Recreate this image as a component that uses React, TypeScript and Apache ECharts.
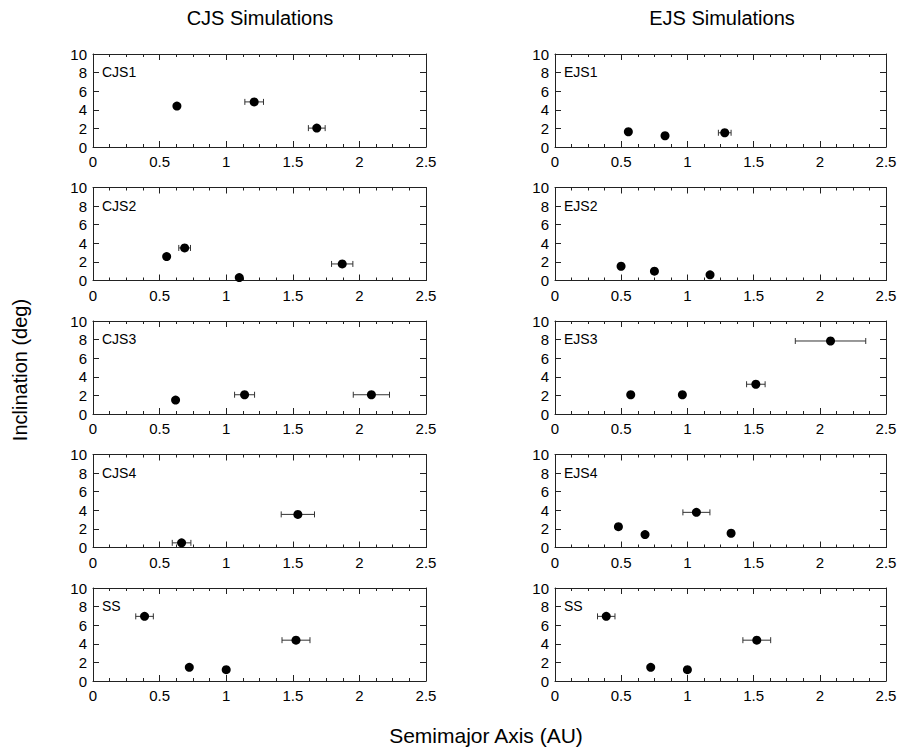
import React, { useEffect, useRef } from "react";
import * as echarts from "echarts";

// ---- Data (semimajor axis a [AU], inclination [deg], a error half-width [AU]) ----
const panelNames = ["CJS1", "CJS2", "CJS3", "CJS4", "SS", "EJS1", "EJS2", "EJS3", "EJS4", "SS"];

const cjs1A = [0.63, 1.21, 1.68];
const cjs1I = [4.4, 4.85, 2.03];
const cjs1E = [0.02, 0.07, 0.063];

const cjs2A = [0.553, 0.688, 1.098, 1.871];
const cjs2I = [2.57, 3.5, 0.32, 1.78];
const cjs2E = [0.02, 0.044, 0.015, 0.08];

const cjs3A = [0.62, 1.138, 2.09];
const cjs3I = [1.5, 2.07, 2.07];
const cjs3E = [0.02, 0.075, 0.136];

const cjs4A = [0.665, 1.538];
const cjs4I = [0.5, 3.56];
const cjs4E = [0.07, 0.125];

const ssA = [0.387, 0.723, 1.0, 1.524];
const ssI = [6.95, 1.47, 1.22, 4.39];
const ssE = [0.066, 0.005, 0.017, 0.105];

const ejs1A = [0.554, 0.831, 1.282];
const ejs1I = [1.64, 1.21, 1.53];
const ejs1E = [0.01, 0.01, 0.048];

const ejs2A = [0.499, 0.751, 1.171];
const ejs2I = [1.53, 1.0, 0.61];
const ejs2E = [0.01, 0.01, 0.01];

const ejs3A = [0.572, 0.962, 1.517, 2.081];
const ejs3I = [2.07, 2.07, 3.2, 7.85];
const ejs3E = [0.01, 0.01, 0.07, 0.266];

const ejs4A = [0.479, 0.68, 1.068, 1.33];
const ejs4I = [2.24, 1.39, 3.78, 1.53];
const ejs4E = [0.02, 0.01, 0.102, 0.02];

const xTickMin = 0;
const xTickMax = 2.5;
const xTickStep = 0.5;
const yTickMin = 0;
const yTickMax = 10;
const yTickStep = 2;

const panels = [
  [cjs1A, cjs1I, cjs1E],
  [cjs2A, cjs2I, cjs2E],
  [cjs3A, cjs3I, cjs3E],
  [cjs4A, cjs4I, cjs4E],
  [ssA, ssI, ssE],
  [ejs1A, ejs1I, ejs1E],
  [ejs2A, ejs2I, ejs2E],
  [ejs3A, ejs3I, ejs3E],
  [ejs4A, ejs4I, ejs4E],
  [ssA, ssI, ssE],
];

const FONT = "'Liberation Sans', Arial, Helvetica, sans-serif";
const colLeft = [93, 555];
const colWidth = [333, 331];
const rowTop = [54, 187.5, 321, 454.5, 588];
const gridH = 93;
const frameColor = "#222";

export default function App() {
  const ref = useRef<HTMLDivElement>(null);

  useEffect(() => {
    if (!ref.current) return;
    const chart = echarts.init(ref.current, undefined, { renderer: "svg" });

    const grids: any[] = [];
    const xAxes: any[] = [];
    const yAxes: any[] = [];
    const series: any[] = [];
    const graphics: any[] = [];

    panels.forEach((p, i) => {
      const col = i < 5 ? 0 : 1;
      const row = i % 5;
      const left = colLeft[col];
      const top = rowTop[row];
      grids.push({ left, top, width: colWidth[col], height: gridH, containLabel: false });

      const baseX = {
        type: "value",
        gridIndex: i,
        min: xTickMin,
        max: xTickMax,
        interval: xTickStep,
        axisLine: { show: true, onZero: false, lineStyle: { color: frameColor, width: 1 } },
        axisTick: { show: true, inside: true, length: 6, lineStyle: { color: frameColor } },
        minorTick: { show: true, splitNumber: 4, length: 3, lineStyle: { color: frameColor } },
        splitLine: { show: false },
      };
      xAxes.push({
        ...baseX,
        position: "bottom",
        axisLabel: { show: true, color: "#000", fontSize: 15, fontFamily: FONT, margin: 7 },
      });
      xAxes.push({ ...baseX, position: "top", axisLabel: { show: false } });

      const baseY = {
        type: "value",
        gridIndex: i,
        min: yTickMin,
        max: yTickMax,
        interval: yTickStep,
        axisLine: { show: true, onZero: false, lineStyle: { color: frameColor, width: 1 } },
        axisTick: { show: true, inside: true, length: 6, lineStyle: { color: frameColor } },
        splitLine: { show: false },
      };
      yAxes.push({
        ...baseY,
        position: "left",
        axisLabel: { show: true, color: "#000", fontSize: 15, fontFamily: FONT, margin: 6 },
      });
      yAxes.push({ ...baseY, position: "right", axisLabel: { show: false } });

      const [a, inc, err] = p as number[][];
      const pts = a.map((v, k) => [v, inc[k], err[k]]);

      series.push({
        type: "custom",
        xAxisIndex: 2 * i,
        yAxisIndex: 2 * i,
        data: pts,
        encode: { x: 0, y: 1 },
        silent: true,
        z: 2,
        renderItem: (_params: any, api: any) => {
          const x = api.value(0);
          const y = api.value(1);
          const e = api.value(2);
          const p1 = api.coord([x - e, y]);
          const p2 = api.coord([x + e, y]);
          const h = 3;
          const st = { stroke: "#333", lineWidth: 1 };
          return {
            type: "group",
            children: [
              { type: "line", shape: { x1: p1[0], y1: p1[1], x2: p2[0], y2: p2[1] }, style: st },
              { type: "line", shape: { x1: p1[0], y1: p1[1] - h, x2: p1[0], y2: p1[1] + h }, style: st },
              { type: "line", shape: { x1: p2[0], y1: p2[1] - h, x2: p2[0], y2: p2[1] + h }, style: st },
            ],
          };
        },
      });
      series.push({
        type: "scatter",
        xAxisIndex: 2 * i,
        yAxisIndex: 2 * i,
        data: pts.map((q) => [q[0], q[1]]),
        symbol: "circle",
        symbolSize: 9,
        itemStyle: { color: "#000", opacity: 1 },
        z: 3,
      });

      graphics.push({
        type: "text",
        left: left + 9,
        top: top + 11,
        style: { text: panelNames[i], fill: "#000", font: `14px ${FONT}` },
      });
    });

    graphics.push(
      {
        type: "text",
        x: 260,
        y: 18,
        style: { text: "CJS Simulations", fill: "#000", font: `20px ${FONT}`, align: "center", verticalAlign: "middle" },
      },
      {
        type: "text",
        x: 722,
        y: 18,
        style: { text: "EJS Simulations", fill: "#000", font: `20px ${FONT}`, align: "center", verticalAlign: "middle" },
      },
      {
        type: "text",
        x: 486,
        y: 735,
        style: { text: "Semimajor Axis (AU)", fill: "#000", font: `21px ${FONT}`, align: "center", verticalAlign: "middle" },
      },
      {
        type: "text",
        x: 20,
        y: 370,
        rotation: Math.PI / 2,
        style: { text: "Inclination (deg)", fill: "#000", font: `20px ${FONT}`, align: "center", verticalAlign: "middle" },
      }
    );

    chart.setOption({
      animation: false,
      backgroundColor: "#fff",
      grid: grids,
      xAxis: xAxes,
      yAxis: yAxes,
      series,
      graphic: graphics,
    });

    return () => chart.dispose();
  }, []);

  return (
    <div
      ref={ref}
      style={{ position: "absolute", left: 0, top: 0, width: 904, height: 752 }}
    />
  );
}
